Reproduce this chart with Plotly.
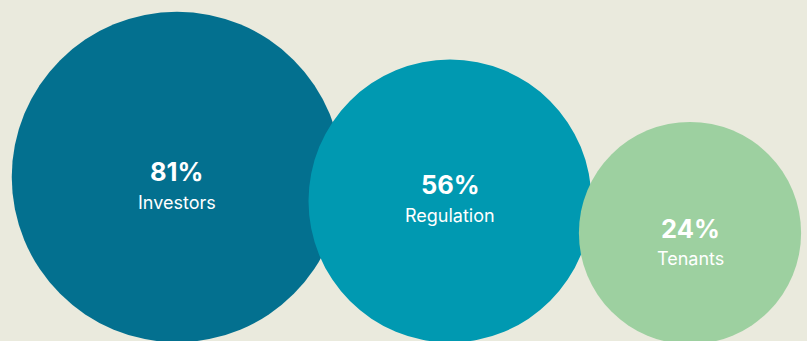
import plotly.graph_objects as go

# Survey results shown as bubbles
categories = ["Investors", "Regulation", "Tenants"]
shares = [81, 56, 24]  # percent

# Layout constants (pixel space of the 807x341 canvas)
WIDTH, HEIGHT = 807, 341
centers_x = [177, 450, 690]
centers_y = [177, 201, 233]
label_offsets = [(-6, 25), (-17, 14), (-5, 25)]  # (value text, category text) relative to center
colors = ["#03708F", "#0099B1", "#9DD0A0"]
BG = "#EAEADD"

# Bubble radius grows linearly with the share
R0, K = 88.3, 0.95


def radius(v):
    return R0 + K * v


fig = go.Figure()
fig.add_trace(go.Scatter(x=[0, WIDTH], y=[0, HEIGHT], mode="markers",
                         marker=dict(opacity=0), hoverinfo="skip", showlegend=False))

for cat, v, cx, cy, (dv, dc), col in zip(categories, shares, centers_x, centers_y,
                                         label_offsets, colors):
    r = radius(v)
    fig.add_shape(type="circle", xref="x", yref="y",
                  x0=cx - r, x1=cx + r, y0=cy - r, y1=cy + r,
                  fillcolor=col, line=dict(width=0), layer="above")
    fig.add_annotation(x=cx, y=cy + dv, text=f"<b>{v}%</b>", showarrow=False,
                       font=dict(family="Inter", size=25.5, color="white"),
                       xanchor="center", yanchor="middle")
    fig.add_annotation(x=cx, y=cy + dc, text=cat, showarrow=False,
                       font=dict(family="Inter", size=18, color="white"),
                       xanchor="center", yanchor="middle")

fig.update_xaxes(range=[0, WIDTH], visible=False, fixedrange=True)
fig.update_yaxes(range=[HEIGHT, 0], visible=False, fixedrange=True)
fig.update_layout(width=WIDTH, height=HEIGHT, margin=dict(l=0, r=0, t=0, b=0),
                  paper_bgcolor=BG, plot_bgcolor=BG, showlegend=False)

fig.write_html("out.html", config={"displayModeBar": False})
